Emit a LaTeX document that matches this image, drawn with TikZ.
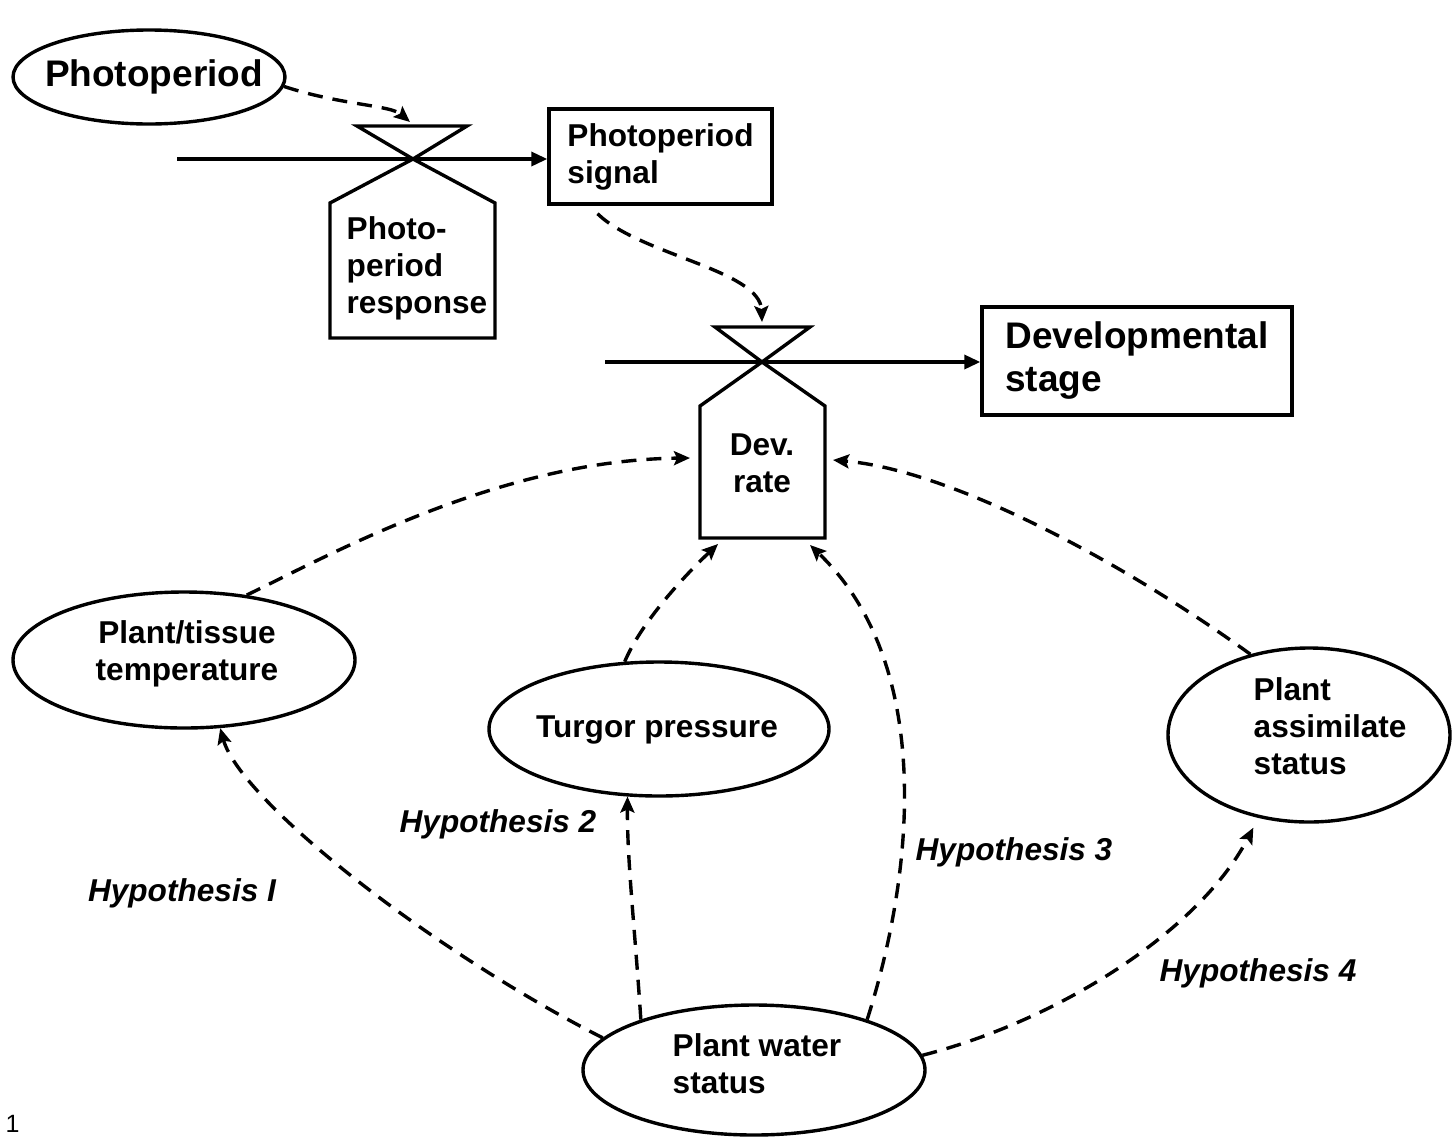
\documentclass[tikz,border=0pt]{standalone}
\usepackage{fontspec}
\setmainfont{Liberation Sans}
\usetikzlibrary{shapes.geometric,arrows.meta,calc}
\begin{document}
\begin{tikzpicture}[x=0.5pt,y=-0.5pt,
  line width=1.7pt,
  ell/.style={draw,ellipse,inner sep=0pt},
  sm/.style={font=\fontsize{15.8}{18.5}\selectfont\bfseries, inner sep=0pt},
  lg/.style={font=\fontsize{18.5}{21.5}\selectfont\bfseries, inner sep=0pt},
  hyp/.style={font=\fontsize{15.8}{18.5}\selectfont\bfseries\itshape, inner sep=0pt},
  dep/.style={dash pattern=on 7.5pt off 5pt, -{Stealth[length=8pt,width=7pt,inset=1.5pt]}},
  flow/.style={-{Triangle[length=8pt,width=7pt]}},
  boxn/.style={draw, inner sep=0pt, align=left},
  ghost/.style={inner sep=0pt, outer sep=0pt}]
\useasboundingbox (0,0) rectangle (1456,1136);

% Photoperiod source
\node[ell, minimum width=136pt, minimum height=47pt] (photo) at (149,77) {};
\node[lg] (photot) at (154,77) {Photoperiod};

% Photoperiod signal and Developmental stage
\node[boxn, sm, minimum width=111.5pt, minimum height=47.5pt] (sig) at (660.5,156.5) {Photoperiod\\signal};
\node[boxn, lg, minimum width=155pt, minimum height=54pt] (stage) at (1137,361) {Developmental\\stage};

% Valve 1
\coordinate (v1x) at (413,159);
\coordinate (v1top) at (413,126);
\node[ghost, minimum width=82.5pt, minimum height=67.5pt] (v1box) at (412.5,270.5) {};
\draw[line join=miter] (357,126) -- (467,126) -- (v1x) -- cycle;
\draw[line join=miter] (v1x) -- (v1box.north east) -- (v1box.south east) -- (v1box.south west) -- (v1box.north west) -- cycle;
\node[sm, align=left, anchor=west] (v1t) at (345,268) {Photo-\\period\\response};
\coordinate (v1in) at (177,159);
\draw[flow] (v1in) -- (v1in -| sig.west);

% Valve 2
\coordinate (v2x) at (762,362);
\coordinate (v2top) at (762,327);
\node[ghost, minimum width=62.5pt, minimum height=66pt] (devbox) at (762.5,472) {};
\draw[line join=miter] (715,327) -- (810,327) -- (v2x) -- cycle;
\draw[line join=miter] (v2x) -- (devbox.north east) -- (devbox.south east) -- (devbox.south west) -- (devbox.north west) -- cycle;
\node[sm, align=center] (devt) at (762,463) {Dev.\\rate};
\coordinate (v2in) at (605,362);
\draw[flow] (v2in) -- (v2in -| stage.west);

% Ellipses
\node[ell, minimum width=171pt, minimum height=68pt] (temp) at (184,660) {};
\node[sm, align=center] (tempt) at (187,654) {Plant/tissue\\temperature};
\node[ell, minimum width=170pt, minimum height=67pt] (turgor) at (659,729) {};
\node[sm] (turgort) at (657,730) {Turgor pressure};
\node[ell, minimum width=141pt, minimum height=87pt] (assim) at (1309,735) {};
\node[sm, align=left, anchor=west] (assimt) at (1252,726) {Plant\\assimilate\\status};
\node[ell, minimum width=171pt, minimum height=65pt] (water) at (754,1070) {};
\node[sm, align=left, anchor=west] (watert) at (671,1064) {Plant water\\status};

% Dashed influences
\draw[dep] (photo.-4) .. controls (340,105) and (390,105) .. ($(v1top)+(-3,-4)$);
\draw[dep] ($(sig.south)+(-63,8)$) .. controls (640,255) and (760,270) .. ($(v2top)+(0,-5)$);
\draw[dep] (temp.46) .. controls (330,555) and (500,460) .. ($(devbox.west)+(-10,-14)$);
\draw[dep] (turgor.117) .. controls (640,625) and (680,580) .. ($(devbox.south)+(-44.5,6)$);
\draw[dep] (water.24) .. controls (918,860) and (930,660) .. ($(devbox.south)+(47.5,7)$);
\draw[dep] (assim.126) .. controls (1120,560) and (950,470) .. ($(devbox.east)+(8,-12)$);
\draw[dep] (water.168) .. controls (430,950) and (240,800) .. (temp.-62);
\draw[dep] (water.156) .. controls (635,930) and (627,860) .. (turgor.-115);
\draw[dep] (water.5) .. controls (1060,1020) and (1200,930) .. ($(assim.-122)+(-4,10)$);

% Hypothesis labels
\node[hyp] (h1) at (182,893) {Hypothesis I};
\node[hyp] (h2) at (498,824) {Hypothesis 2};
\node[hyp] (h3) at (1014,852) {Hypothesis 3};
\node[hyp] (h4) at (1258,973) {Hypothesis 4};

% page number
\node[font=\fontsize{12.5}{14}\selectfont, inner sep=0pt, anchor=base west] (pg) at (4,1132) {1};
\end{tikzpicture}
\end{document}
